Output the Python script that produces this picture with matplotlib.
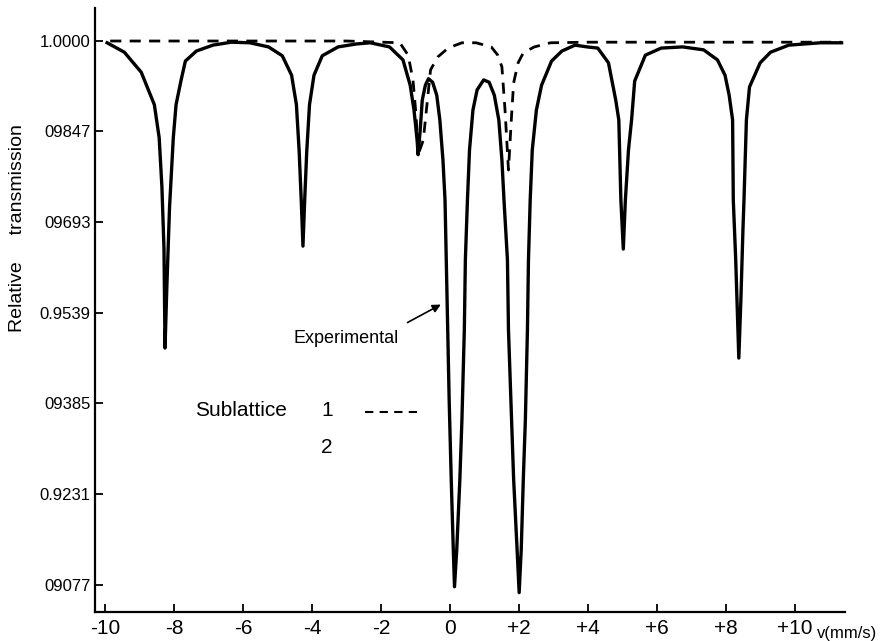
import matplotlib
matplotlib.use("Agg")
import matplotlib.pyplot as plt

plt.rcParams['font.family'] = ['Liberation Sans', 'DejaVu Sans']

# Experimental transmission spectrum, velocity in mm/s
exp_v = [-9.95, -9.45, -8.96, -8.58, -8.44, -8.36, -8.30, -8.27, -8.22, -8.14,
         -8.03, -7.95, -7.81, -7.68, -7.36, -6.88, -6.35, -5.81, -5.27, -4.87,
         -4.60, -4.46, -4.38, -4.32, -4.27, -4.22, -4.16, -4.08, -3.95, -3.71,
         -3.25, -2.72, -2.32, -1.76, -1.37, -1.16, -1.05, -0.96, -0.93, -0.87,
         -0.81, -0.72, -0.63, -0.51, -0.39, -0.30, -0.21, -0.15, -0.09, -0.03,
         0.03, 0.09, 0.125, 0.19, 0.28, 0.34, 0.41, 0.44, 0.50, 0.56,
         0.66, 0.78, 0.97, 1.13, 1.28, 1.41, 1.50, 1.56, 1.66, 1.69,
         1.78, 1.84, 1.94, 2.00, 2.06, 2.12, 2.18, 2.24, 2.27, 2.32,
         2.38, 2.50, 2.65, 2.94, 3.24, 3.62, 3.97, 4.28, 4.59, 4.80,
         4.89, 4.95, 5.02, 5.08, 5.17, 5.26, 5.35, 5.66, 6.12, 6.74,
         7.35, 7.75, 7.97, 8.09, 8.19, 8.21, 8.28, 8.37, 8.43, 8.49,
         8.52, 8.59, 8.68, 8.99, 9.29, 9.82, 10.74, 11.35]
exp_t = [0.9997, 0.9981, 0.9947, 0.9892, 0.9836, 0.9752, 0.9647, 0.9479, 0.9578, 0.9717,
         0.9836, 0.9892, 0.9932, 0.9966, 0.9983, 0.9993, 0.9998, 0.9997, 0.9990, 0.9975,
         0.9942, 0.9892, 0.9813, 0.9730, 0.9652, 0.9730, 0.9813, 0.9892, 0.9942, 0.9975,
         0.9990, 0.9995, 0.9997, 0.9990, 0.9968, 0.9925, 0.9883, 0.9832, 0.9807, 0.9849,
         0.9900, 0.9925, 0.9936, 0.9930, 0.9908, 0.9866, 0.9798, 0.9730, 0.9561, 0.9391,
         0.9256, 0.9137, 0.9074, 0.9137, 0.9256, 0.9357, 0.9510, 0.9629, 0.9730, 0.9815,
         0.9883, 0.9917, 0.9934, 0.9930, 0.9908, 0.9866, 0.9798, 0.9730, 0.9629, 0.9510,
         0.9357, 0.9256, 0.9137, 0.9064, 0.9137, 0.9256, 0.9357, 0.9510, 0.9629, 0.9730,
         0.9815, 0.9883, 0.9925, 0.9966, 0.9983, 0.9993, 0.9990, 0.9988, 0.9963, 0.9900,
         0.9866, 0.9730, 0.9647, 0.9730, 0.9815, 0.9866, 0.9932, 0.9976, 0.9988, 0.9990,
         0.9985, 0.9968, 0.9942, 0.9908, 0.9866, 0.9730, 0.9629, 0.9462, 0.9561, 0.9680,
         0.9730, 0.9866, 0.9922, 0.9963, 0.9981, 0.9993, 0.9997, 0.9997]

# Sublattice 1 component
sub1_v = [-9.86, -6.0, -3.0, -1.46, -1.22, -1.08, -0.99, -0.93, -0.78, -0.66,
          -0.57, -0.36, -0.06, 0.34, 0.75, 1.19, 1.38, 1.50, 1.59, 1.69,
          1.78, 1.84, 1.97, 2.12, 2.44, 2.91, 4.0, 7.0, 11.35]
sub1_t = [1.0000, 1.0000, 1.0000, 0.9997, 0.9976, 0.9934, 0.9874, 0.9807, 0.9832, 0.9900,
          0.9951, 0.9973, 0.9988, 0.9997, 0.9997, 0.9990, 0.9976, 0.9956, 0.9883, 0.9781,
          0.9874, 0.9929, 0.9963, 0.9980, 0.9990, 0.9997, 0.9998, 0.9998, 0.9998]

x_ticks = [-10, -8, -6, -4, -2, 0, 2, 4, 6, 8, 10]
x_labels = ['-10', '-8', '-6', '-4', '-2', '0', '+2', '+4', '+6', '+8', '+10']
y_ticks = [1.0000, 0.9847, 0.9693, 0.9539, 0.9385, 0.9231, 0.9077]
y_labels = ['1.0000', '09847', '09693', '0.9539', '09385', '0.9231', '09077']

fig = plt.figure(figsize=(8.84, 6.41), dpi=100)
ax = fig.add_axes([0.1075, 0.0452, 0.8484, 0.9423])

ax.plot(exp_v, exp_t, color='black', lw=2.4, solid_joinstyle='round', zorder=3)
ax.plot(sub1_v, sub1_t, color='black', lw=2.0, ls=(0, (4, 3)), zorder=2)

ax.set_xlim(-10.3, 11.45)
ax.set_ylim(0.9031, 1.0056)

for side in ['top', 'right']:
    ax.spines[side].set_visible(False)
for side in ['left', 'bottom']:
    ax.spines[side].set_linewidth(1.6)

ax.set_xticks(x_ticks)
ax.set_xticklabels(x_labels, fontsize=15)
ax.set_yticks(y_ticks)
ax.set_yticklabels(y_labels, fontsize=12)
ax.tick_params(axis='both', direction='in', length=6, width=1.3)
ax.tick_params(axis='y', pad=3)
ax.tick_params(axis='x', pad=5)

ax.text(0.962, -0.036, 'v(mm/s)', transform=ax.transAxes, fontsize=12,
        ha='left', va='center')
fig.text(0.02, 0.644, 'Relative     transmission', rotation=90, fontsize=14,
         ha='center', va='center')

# curve annotation
ax.annotate('', xy=(-0.2, 0.9555), xytext=(-1.31, 0.9520),
            arrowprops=dict(arrowstyle='-|>', color='black', lw=1.2,
                            mutation_scale=12))
ax.text(0.405, 0.4536, 'Experimental', transform=ax.transAxes, fontsize=13,
        ha='right', va='center')

# key for the sublattice components
ax.text(0.133, 0.334, 'Sublattice', transform=ax.transAxes, fontsize=15,
        ha='left', va='center')
ax.text(0.309, 0.334, '1', transform=ax.transAxes, fontsize=15,
        ha='center', va='center')
ax.text(0.309, 0.272, '2', transform=ax.transAxes, fontsize=15,
        ha='center', va='center')
ax.plot([0.36, 0.433], [0.331, 0.331], transform=ax.transAxes,
        color='black', lw=1.5, ls=(0, (4, 3)))

fig.savefig('out.png', dpi=100)
